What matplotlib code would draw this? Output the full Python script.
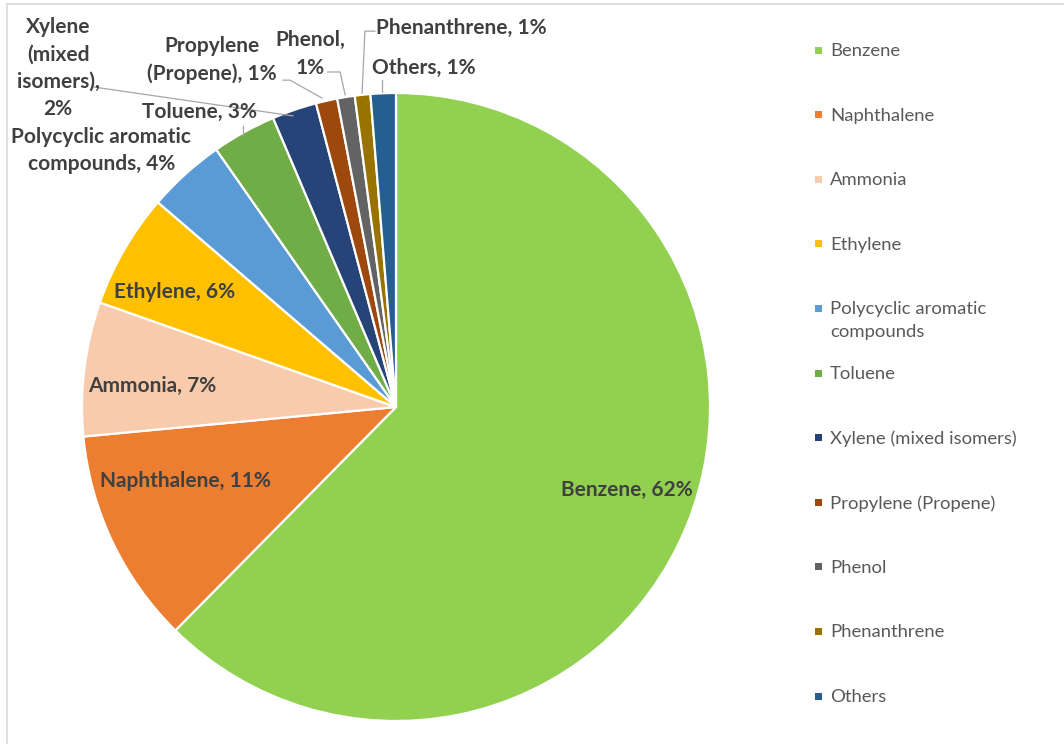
import matplotlib
matplotlib.use("Agg")
import matplotlib.pyplot as plt
from matplotlib.lines import Line2D
from matplotlib.patches import Rectangle

categories = ["Benzene", "Naphthalene", "Ammonia", "Ethylene",
              "Polycyclic aromatic compounds", "Toluene",
              "Xylene (mixed isomers)", "Propylene (Propene)", "Phenol",
              "Phenanthrene", "Others"]
values = [62.4, 11.1, 6.9, 5.9, 4.0, 3.3, 2.3, 1.1, 0.9, 0.8, 1.3]
pct_labels = ["62%", "11%", "7%", "6%", "4%", "3%", "2%", "1%", "1%", "1%", "1%"]
legend_labels = ["Benzene", "Naphthalene", "Ammonia", "Ethylene",
                 "Polycyclic aromatic\ncompounds", "Toluene",
                 "Xylene (mixed isomers)", "Propylene (Propene)", "Phenol",
                 "Phenanthrene", "Others"]
data_label_names = ["Benzene", "Naphthalene", "Ammonia", "Ethylene",
                    "Polycyclic aromatic\ncompounds", "Toluene",
                    "Xylene\n(mixed\nisomers)", "Propylene\n(Propene)", "Phenol",
                    "Phenanthrene", "Others"]
colors = ["#92D050", "#ED7D31", "#F8CBAD", "#FFC000", "#5B9BD5", "#70AD47",
          "#264478", "#9E480E", "#636363", "#997300", "#255E91"]

# label placement (style): (x, y, separator) in pie data coords
label_pos = [(0.736, -0.264, ", "), (-0.672, -0.236, ", "), (-0.777, 0.067, ", "),
             (-0.704, 0.366, ", "), (-0.939, 0.818, ", "), (-0.627, 0.939, ", "),
             (-1.076, 1.080, ",\n"), (-0.586, 1.105, ", "), (-0.274, 1.124, ",\n"),
             (0.207, 1.207, ", "), (0.089, 1.080, ", ")]
leaders = {
    5: [(-0.487, 0.895), (-0.487, 0.866)],
    6: [(-0.962, 1.019), (-0.328, 0.927)],
    7: [(-0.360, 1.041), (-0.338, 1.041), (-0.236, 0.984)],
    8: [(-0.217, 1.067), (-0.178, 1.067), (-0.162, 0.994)],
    9: [(-0.067, 1.197), (-0.099, 1.197), (-0.108, 1.0)],
    10: [(-0.045, 1.041), (-0.045, 1.003)],
}

plt.rcParams['font.family'] = ['Lato', 'DejaVu Sans']

W, H = 1064, 744
fig = plt.figure(figsize=(W / 100, H / 100), dpi=100)
cx, cy, r = 396, 407, 314
ax = fig.add_axes([(cx - r) / W, (H - cy - r) / H, 2 * r / W, 2 * r / H])

wedges, _ = ax.pie(values, colors=colors, startangle=90, counterclock=False,
                   radius=1.0, wedgeprops=dict(edgecolor="white", linewidth=1.6))
ax.set_xlim(-1, 1)
ax.set_ylim(-1, 1)
ax.set_aspect('auto')
ax.axis('off')

for i, (x, y, sep) in enumerate(label_pos):
    txt = data_label_names[i] + sep + pct_labels[i]
    ax.text(x, y, txt, ha='center', va='center', fontsize=15,
            fontweight='bold', color='#404040', linespacing=1.45,
            clip_on=False)

for i, pts in leaders.items():
    xs, ys = zip(*pts)
    ax.add_line(Line2D(xs, ys, color='#A6A6A6', lw=0.9, clip_on=False))

# legend (laid out like the spreadsheet legend: evenly spaced rows)
leg_top, leg_step = 50, 64.6
for i, (lab, col) in enumerate(zip(legend_labels, colors)):
    yc = leg_top + i * leg_step
    fig.add_artist(Rectangle((815 / W, 1 - (yc + 3.5) / H), 7 / W, 7 / H,
                             transform=fig.transFigure, facecolor=col,
                             edgecolor='none'))
    fig.text(830 / W, 1 - (yc - 7) / H, lab, ha='left', va='top',
             fontsize=13.3, color='#595959', linespacing=1.5)

# chart border (left and top visible)
fig.add_artist(Line2D([7 / W, 7 / W], [0, 1 - 4 / H], transform=fig.transFigure,
                      color='#D9D9D9', lw=1.2))
fig.add_artist(Line2D([7 / W, 1], [1 - 4 / H, 1 - 4 / H], transform=fig.transFigure,
                      color='#D9D9D9', lw=1.2))

fig.savefig("out.png", dpi=100, facecolor='white')
